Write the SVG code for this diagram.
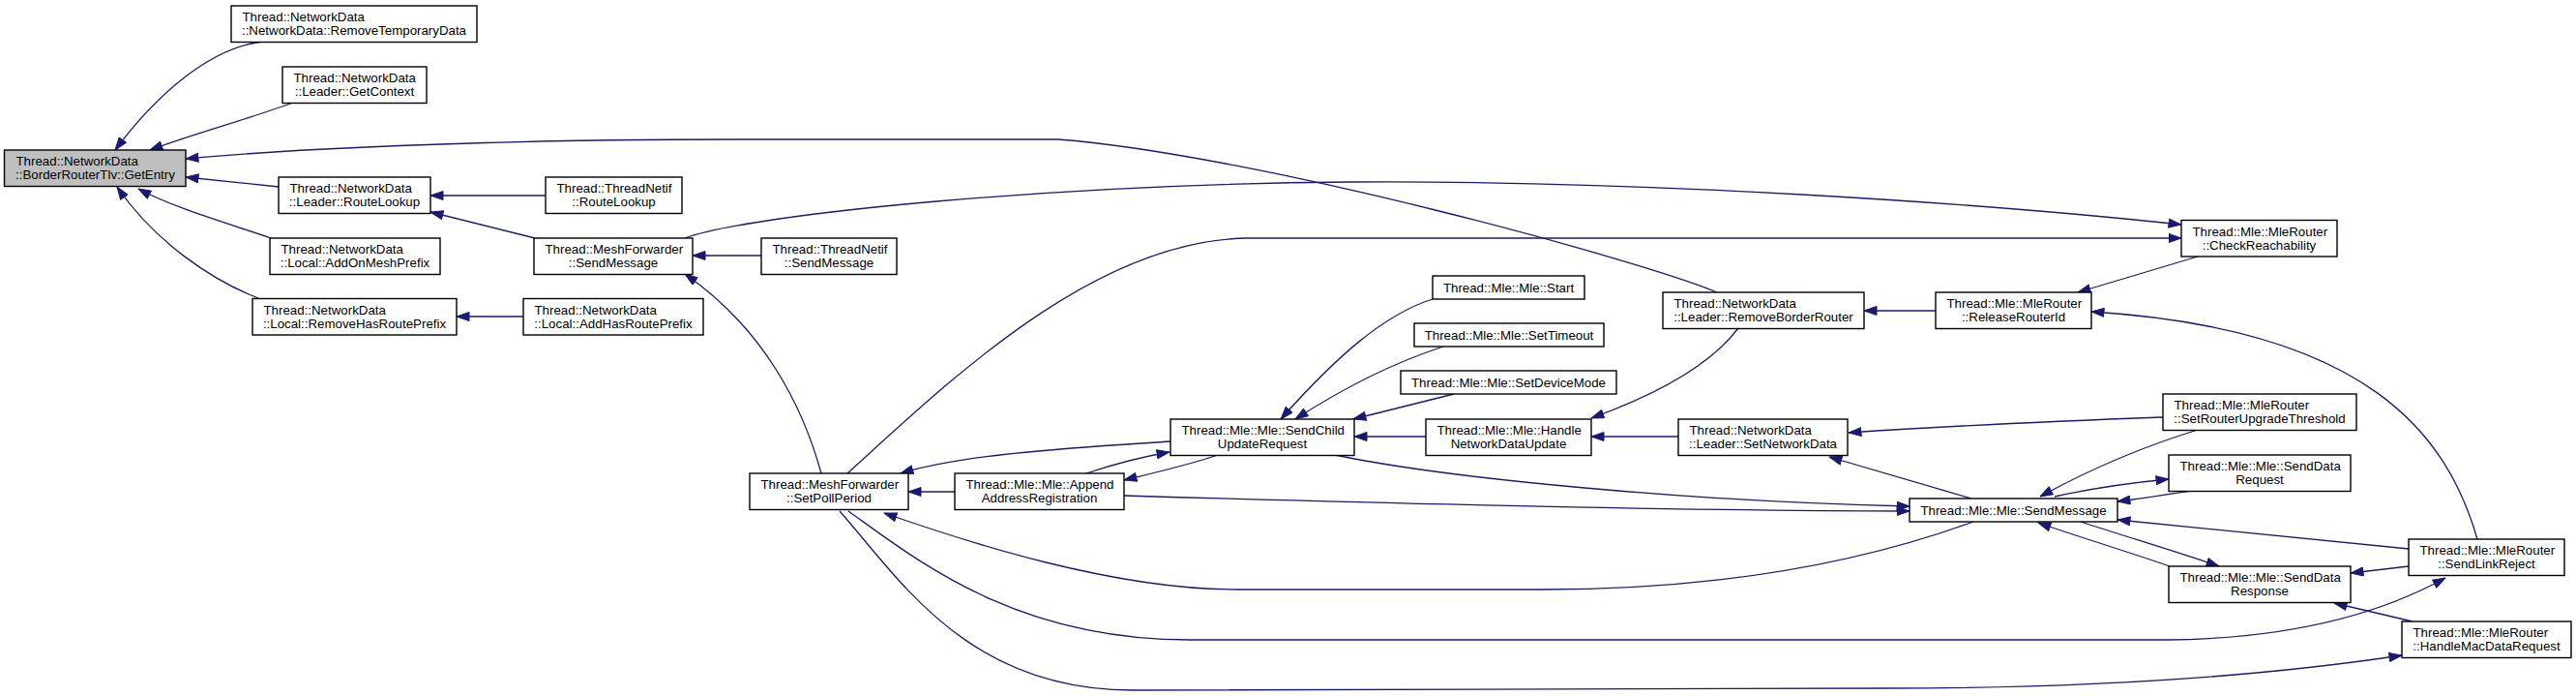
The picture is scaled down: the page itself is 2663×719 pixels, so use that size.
<svg xmlns="http://www.w3.org/2000/svg" width="2663" height="719" viewBox="0 0 2663 719">
<defs>
<style>
.node rect{fill:#ffffff;stroke:#000000;stroke-width:1.4}
.node.main rect{fill:#bfbfbf}
.node text{font-family:"Liberation Sans",Arial,Helvetica,sans-serif;font-size:13.3px;fill:#000000}
.node text.c{text-anchor:middle}
.edges path{fill:none;stroke:#191970;stroke-width:1.3;marker-end:url(#arr)}
</style>
<marker id="arr" viewBox="0 0 14 10" refX="13.5" refY="5" markerWidth="14" markerHeight="10" markerUnits="userSpaceOnUse" orient="auto">
<path d="M0.5,0.5 L13.5,5 L0.5,9.5 z" fill="#191970" stroke="#191970" stroke-width="1"/>
</marker>
</defs>
<rect x="0" y="0" width="2663" height="719" fill="#ffffff"/>
<g class="edges" id="connectors">
<path d="M271,43 C215,50 160,100 119,155"/>
<path d="M303,106 C260,122 200,138 155,155"/>
<path d="M1775,302 C1700,270 1300,160 1094,144 L760,144 C500,144 300,154 192,164"/>
<path d="M288,193 L192,183"/>
<path d="M280,246 C240,232 180,215 143,195"/>
<path d="M267,308 C220,290 160,250 121,193"/>
<path d="M564,202 L445,202"/>
<path d="M553,246 L445,219"/>
<path d="M541,327 L472,327"/>
<path d="M787,264 L716,264"/>
<path d="M849,489 C830,420 790,340 708,283"/>
<path d="M708,246 C780,220 1100,190 1397,188 C1700,186 2050,210 2255,232"/>
<path d="M876,489 C980,395 1130,248 1290,246 L2255,246"/>
<path d="M987,508 L939,508"/>
<path d="M1210,456 C1120,462 1000,468 931,489"/>
<path d="M1123,489 C1150,480 1180,472 1209,467"/>
<path d="M1259,470 C1230,480 1195,488 1162,496"/>
<path d="M1162,512 C1500,522 1800,528 1974,528"/>
<path d="M1380,470 C1500,495 1750,518 1974,523"/>
<path d="M2040,539 C1900,590 1750,609 1594,609 L1279,609 C1150,609 1000,560 914,530"/>
<path d="M877,528 C950,580 1050,661 1230,661 L2240,661 C2350,660 2450,640 2528,597"/>
<path d="M868,528 C930,598 1000,713 1171,713 L1950,711 C2150,711 2330,700 2483,677"/>
<path d="M1797,339 C1770,375 1720,405 1645,432"/>
<path d="M1735,451 L1645,451"/>
<path d="M1474,451 L1400,451"/>
<path d="M1481,309 C1430,325 1380,370 1324,433"/>
<path d="M1492,358 C1440,375 1390,400 1339,433"/>
<path d="M1503,407 L1399,433"/>
<path d="M2001,321 L1927,321"/>
<path d="M2272,265 L2148,302"/>
<path d="M2561,557 C2530,450 2450,340 2162,322"/>
<path d="M2038,515 L1891,472"/>
<path d="M2236,431 C2100,436 2000,441 1911,447"/>
<path d="M2272,444 C2220,460 2160,485 2109,513"/>
<path d="M2124,513 C2160,505 2200,499 2242,495"/>
<path d="M2265,507 C2240,511 2215,515 2189,518"/>
<path d="M2490,567 L2189,537"/>
<path d="M2151,539 C2200,555 2250,570 2294,585"/>
<path d="M2243,585 C2200,570 2150,555 2107,540"/>
<path d="M2490,585 L2430,592"/>
<path d="M2494,642 L2413,623"/>
</g>
<g class="node main" id="n1"><rect x="4.5" y="155" width="187.5" height="37.5"/><text x="16.5" y="171">Thread::NetworkData</text><text class="c" x="98.5" y="185">::BorderRouterTlv::GetEntry</text></g>
<g class="node" id="n2"><rect x="239" y="6" width="254" height="37.5"/><text x="250.5" y="22">Thread::NetworkData</text><text class="c" x="366" y="36">::NetworkData::RemoveTemporaryData</text></g>
<g class="node" id="n3"><rect x="292" y="69" width="149" height="37.5"/><text x="303.5" y="85">Thread::NetworkData</text><text class="c" x="366.5" y="99">::Leader::GetContext</text></g>
<g class="node" id="n4"><rect x="288" y="183" width="157" height="37.5"/><text x="299.5" y="199">Thread::NetworkData</text><text class="c" x="366.5" y="213">::Leader::RouteLookup</text></g>
<g class="node" id="n5"><rect x="564" y="183" width="141" height="37.5"/><text x="575.5" y="199">Thread::ThreadNetif</text><text class="c" x="634.5" y="213">::RouteLookup</text></g>
<g class="node" id="n6"><rect x="279" y="246" width="176" height="37.5"/><text x="290.5" y="262">Thread::NetworkData</text><text class="c" x="367" y="276">::Local::AddOnMeshPrefix</text></g>
<g class="node" id="n7"><rect x="552" y="246" width="164" height="37.5"/><text x="563.5" y="262">Thread::MeshForwarder</text><text class="c" x="634" y="276">::SendMessage</text></g>
<g class="node" id="n8"><rect x="261" y="308.5" width="211" height="37.5"/><text x="272.5" y="324.5">Thread::NetworkData</text><text class="c" x="366.5" y="338.5">::Local::RemoveHasRoutePrefix</text></g>
<g class="node" id="n9"><rect x="541" y="308.5" width="186" height="37.5"/><text x="552.5" y="324.5">Thread::NetworkData</text><text class="c" x="634" y="338.5">::Local::AddHasRoutePrefix</text></g>
<g class="node" id="n10"><rect x="787" y="246" width="140" height="37.5"/><text x="798.5" y="262">Thread::ThreadNetif</text><text class="c" x="857" y="276">::SendMessage</text></g>
<g class="node" id="n11"><rect x="775" y="489" width="164" height="37.5"/><text x="786.5" y="505">Thread::MeshForwarder</text><text class="c" x="857" y="519">::SetPollPeriod</text></g>
<g class="node" id="n12"><rect x="987" y="489" width="175" height="37.5"/><text x="998.5" y="505">Thread::Mle::Mle::Append</text><text class="c" x="1074.5" y="519">AddressRegistration</text></g>
<g class="node" id="n13"><rect x="1210" y="433" width="190" height="37.5"/><text x="1221.5" y="449">Thread::Mle::Mle::SendChild</text><text class="c" x="1305" y="463">UpdateRequest</text></g>
<g class="node" id="n14"><rect x="1481" y="285" width="157" height="24"/><text class="c" x="1559.5" y="301.5">Thread::Mle::Mle::Start</text></g>
<g class="node" id="n15"><rect x="1462" y="334" width="196" height="24"/><text class="c" x="1560" y="350.5">Thread::Mle::Mle::SetTimeout</text></g>
<g class="node" id="n16"><rect x="1448" y="383" width="223" height="24"/><text class="c" x="1559.5" y="399.5">Thread::Mle::Mle::SetDeviceMode</text></g>
<g class="node" id="n17"><rect x="1474" y="433" width="171" height="37.5"/><text x="1485.5" y="449">Thread::Mle::Mle::Handle</text><text class="c" x="1559.5" y="463">NetworkDataUpdate</text></g>
<g class="node" id="n18"><rect x="1719" y="302" width="208" height="37.5"/><text x="1730.5" y="318">Thread::NetworkData</text><text class="c" x="1823" y="332">::Leader::RemoveBorderRouter</text></g>
<g class="node" id="n19"><rect x="1735" y="433" width="175" height="37.5"/><text x="1746.5" y="449">Thread::NetworkData</text><text class="c" x="1822.5" y="463">::Leader::SetNetworkData</text></g>
<g class="node" id="n20"><rect x="2001" y="302" width="161" height="37.5"/><text x="2012.5" y="318">Thread::Mle::MleRouter</text><text class="c" x="2081.5" y="332">::ReleaseRouterId</text></g>
<g class="node" id="n21"><rect x="2255" y="227.5" width="161" height="37.5"/><text x="2266.5" y="243.5">Thread::Mle::MleRouter</text><text class="c" x="2335.5" y="257.5">::CheckReachability</text></g>
<g class="node" id="n22"><rect x="1974" y="515" width="215" height="24"/><text class="c" x="2081.5" y="531.5">Thread::Mle::Mle::SendMessage</text></g>
<g class="node" id="n23"><rect x="2236" y="407" width="200" height="37.5"/><text x="2247.5" y="423">Thread::Mle::MleRouter</text><text class="c" x="2336" y="437">::SetRouterUpgradeThreshold</text></g>
<g class="node" id="n24"><rect x="2242" y="470" width="188" height="37.5"/><text x="2253.5" y="486">Thread::Mle::Mle::SendData</text><text class="c" x="2336" y="500">Request</text></g>
<g class="node" id="n25"><rect x="2242" y="585" width="188" height="37.5"/><text x="2253.5" y="601">Thread::Mle::Mle::SendData</text><text class="c" x="2336" y="615">Response</text></g>
<g class="node" id="n26"><rect x="2490" y="557" width="161" height="37.5"/><text x="2501.5" y="573">Thread::Mle::MleRouter</text><text class="c" x="2570.5" y="587">::SendLinkReject</text></g>
<g class="node" id="n27"><rect x="2483" y="642" width="175" height="37.5"/><text x="2494.5" y="658">Thread::Mle::MleRouter</text><text class="c" x="2570.5" y="672">::HandleMacDataRequest</text></g>
</svg>
